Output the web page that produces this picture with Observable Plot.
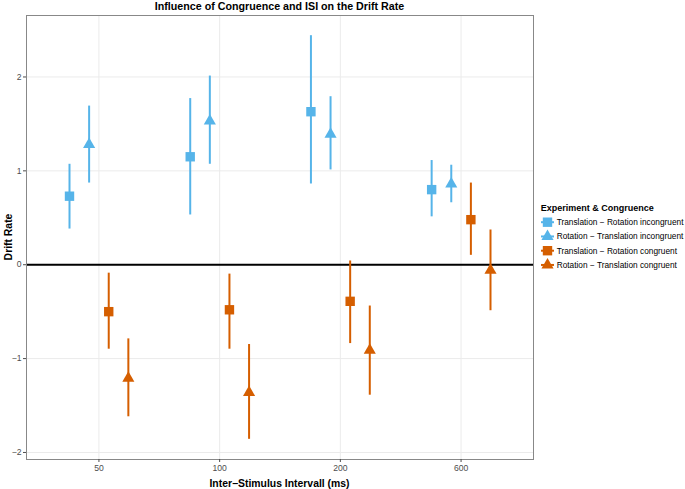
<!DOCTYPE html>
<html>
<head>
<meta charset="utf-8">
<script src="https://cdn.jsdelivr.net/npm/d3@7"></script>
<script src="https://cdn.jsdelivr.net/npm/@observablehq/plot@0.6"></script>
<style>
  html, body { margin: 0; padding: 0; background: #fff; }
  #chart { position: relative; width: 685px; height: 489px; overflow: hidden; }
  #chart svg { font-family: "Liberation Sans", Arial, Helvetica, sans-serif; }
</style>
</head>
<body>
<div id="chart"></div>
<script>
// ---- data ----
const isi = ["50", "100", "200", "600"];
const groups = [
  "Translation − Rotation incongruent",
  "Rotation − Translation incongruent",
  "Translation − Rotation congruent",
  "Rotation − Translation congruent"
];
const groupShapes = ["square", "triangle", "square", "triangle"];
const groupColors = ["#56B4E9", "#56B4E9", "#D55E00", "#D55E00"];

const meanTRinc = [0.73, 1.15, 1.63, 0.80];
const lowTRinc  = [0.38, 0.53, 0.86, 0.51];
const highTRinc = [1.07, 1.77, 2.44, 1.11];

const meanRTinc = [1.28, 1.53, 1.39, 0.86];
const lowRTinc  = [0.87, 1.07, 1.01, 0.66];
const highRTinc = [1.69, 2.01, 1.79, 1.06];

const meanTRcon = [-0.50, -0.48, -0.39, 0.48];
const lowTRcon  = [-0.90, -0.90, -0.84, 0.10];
const highTRcon = [-0.09, -0.10, 0.04, 0.87];

const meanRTcon = [-1.21, -1.36, -0.91, -0.06];
const lowRTcon  = [-1.62, -1.86, -1.39, -0.49];
const highRTcon = [-0.79, -0.85, -0.44, 0.37];

const yTicks = [-2, -1, 0, 1, 2];

// ---- build table ----
const means = [meanTRinc, meanRTinc, meanTRcon, meanRTcon];
const lows = [lowTRinc, lowRTinc, lowTRcon, lowRTcon];
const highs = [highTRinc, highRTinc, highTRcon, highRTcon];
const dodgeWidth = 0.65;
const rows = [];
groups.forEach((g, k) => {
  isi.forEach((s, i) => {
    rows.push({
      group: g, k, isi: s,
      xpos: i + (k + 0.5) / groups.length * dodgeWidth - dodgeWidth / 2,
      mean: means[k][i], low: lows[k][i], high: highs[k][i],
      shape: groupShapes[k]
    });
  });
});
const yMin = d3.min(rows, d => d.low), yMax = d3.max(rows, d => d.high);
const yPad = (yMax - yMin) * 0.05;

const W = 685, H = 489;
const mL = 26, mR = 152, mT = 15, mB = 30;
const fmtY = d => (d < 0 ? "−" : "") + Math.abs(d);

const plot = Plot.plot({
  width: W, height: H,
  marginLeft: mL, marginRight: mR, marginTop: mT, marginBottom: mB,
  style: { fontFamily: '"Liberation Sans", Arial, Helvetica, sans-serif', background: "#fff" },
  x: { type: "linear", domain: [-0.6, isi.length - 1 + 0.6] },
  y: { domain: [yMin - yPad, yMax + yPad] },
  color: { domain: groups, range: groupColors },
  symbol: { domain: groups, range: groupShapes },
  marks: [
    Plot.gridY(yTicks, { stroke: "#ebebeb", strokeOpacity: 1, strokeWidth: 1 }),
    Plot.gridX(d3.range(isi.length), { stroke: "#ebebeb", strokeOpacity: 1, strokeWidth: 1 }),
    Plot.ruleY([0], { stroke: "#000", strokeWidth: 2 }),
    Plot.ruleX(rows, { x: "xpos", y1: "low", y2: "high", stroke: "group", strokeWidth: 2 }),
    Plot.dot(rows.filter(d => d.shape === "square"), { x: "xpos", y: "mean", fill: "group", symbol: "group", r: 5.3 }),
    Plot.dot(rows.filter(d => d.shape === "triangle"), { x: "xpos", y: "mean", fill: "group", symbol: "group", r: 4.5 }),
    Plot.frame({ stroke: "#888", strokeWidth: 1 }),
    Plot.axisY(yTicks, { label: null, tickSize: 3, tickPadding: 2, fontSize: 8.6, color: "#4d4d4d", tickFormat: fmtY }),
    Plot.axisX(d3.range(isi.length), { label: null, tickSize: 3, tickPadding: 2, fontSize: 8.6, color: "#4d4d4d", tickFormat: i => isi[i] })
  ]
});
document.getElementById("chart").appendChild(plot);

// ---- titles and legend ----
const svg = d3.select(plot);
const font = '"Liberation Sans", Arial, Helvetica, sans-serif';
const cx = (mL + (W - mR)) / 2;
svg.append("text").attr("x", cx).attr("y", 9.5).attr("text-anchor", "middle")
  .attr("font-size", 10.7).attr("font-weight", "bold").attr("fill", "#000").attr("font-family", font)
  .text("Influence of Congruence and ISI on the Drift Rate");
svg.append("text").attr("x", cx).attr("y", 487).attr("text-anchor", "middle")
  .attr("font-size", 10.4).attr("font-weight", "bold").attr("fill", "#000").attr("font-family", font)
  .text("Inter−Stimulus Intervall (ms)");
svg.append("text").attr("transform", `translate(12,${(mT + H - mB) / 2}) rotate(-90)`).attr("text-anchor", "middle")
  .attr("font-size", 10.4).attr("font-weight", "bold").attr("fill", "#000").attr("font-family", font)
  .text("Drift Rate");

const lg = svg.append("g").attr("font-family", font).attr("text-anchor", "start");
lg.append("text").attr("x", 540.7).attr("y", 211).attr("font-size", 9).attr("font-weight", "bold").attr("fill", "#000")
  .attr("text-anchor", "start")
  .text("Experiment & Congruence");
groups.forEach((g, k) => {
  const y = 222.2 + k * 14.25;
  const row = lg.append("g").attr("transform", `translate(547.5,${y})`);
  row.append("line").attr("x1", -6.5).attr("x2", 6.5).attr("y1", 0).attr("y2", 0)
    .attr("stroke", groupColors[k]).attr("stroke-width", 2);
  const r = groupShapes[k] === "square" ? 5.3 : 4.5;
  row.append("path")
    .attr("d", d3.symbol(groupShapes[k] === "square" ? d3.symbolSquare : d3.symbolTriangle, Math.PI * r * r)())
    .attr("fill", groupColors[k]);
  lg.append("text").attr("x", 556.7).attr("y", y).attr("dy", "0.35em").attr("font-size", 8.3).attr("fill", "#000")
    .attr("text-anchor", "start")
    .text(g);
});
</script>
</body>
</html>
